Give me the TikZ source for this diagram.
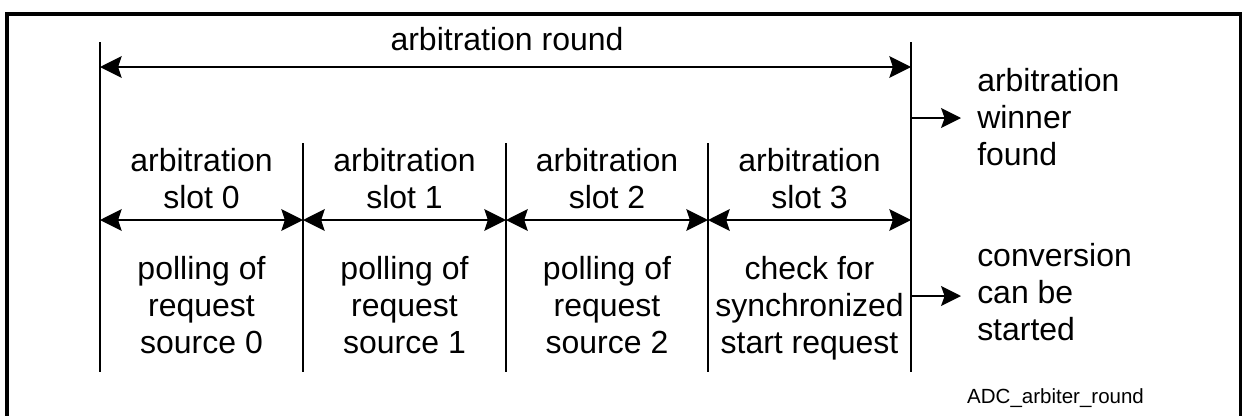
\documentclass[tikz,border=0pt]{standalone}
\usepackage{fontspec}
\setmainfont{Liberation Sans}
\usetikzlibrary{arrows.meta}

\begin{document}
\begin{tikzpicture}[
    x=0.03cm, y=-0.03cm,
    txt/.style={font=\fontsize{27.3}{31.6}\selectfont, inner sep=0pt},
    lbl/.style={txt, align=center, anchor=north},
    side/.style={txt, align=left, anchor=north west},
    span/.style={{Stealth[length=18.5pt, width=18.5pt, inset=3pt]}-{Stealth[length=18.5pt, width=18.5pt, inset=3pt]}, line width=1.7pt},
    result/.style={-{Stealth[length=17pt, width=17pt, inset=3pt]}, line width=1.7pt},
    bound/.style={line width=2.3pt},
    sep/.style={line width=1.1pt}
]
    \useasboundingbox (0,0) rectangle (1242,415);

    % Outer frame (open at the bottom)
    \draw[line width=2.6pt] (7,420) -- (7,14) -- (1241,14) -- (1241,420);

    % Slot boundaries
    \coordinate (t0) at (100,42);  \coordinate (b0) at (100,372);
    \coordinate (t1) at (303,143); \coordinate (b1) at (303,372);
    \coordinate (t2) at (506,143); \coordinate (b2) at (506,372);
    \coordinate (t3) at (708,143); \coordinate (b3) at (708,372);
    \coordinate (t4) at (911,42);  \coordinate (b4) at (911,372);
    \draw[bound] (t0) -- (b0);
    \draw[sep] (t1) -- (b1);
    \draw[sep] (t2) -- (b2);
    \draw[sep] (t3) -- (b3);
    \draw[bound] (t4) -- (b4);

    % Arbitration round
    \node[txt, anchor=base] (round) at (507,50) {arbitration round};
    \coordinate (r0) at (100,67);
    \coordinate (r4) at (911,67);
    \draw[span] (r0) -- (r4);

    % Arbitration slots
    \coordinate (s0) at (100,220);
    \coordinate (s1) at (303,220);
    \coordinate (s2) at (506,220);
    \coordinate (s3) at (708,220);
    \coordinate (s4) at (911,220);
    \draw[span] (s0) -- (s1);
    \draw[span] (s1) -- (s2);
    \draw[span] (s2) -- (s3);
    \draw[span] (s3) -- (s4);

    \node[lbl] (slot0) at (201.5,148) {arbitration\\slot 0};
    \node[lbl] (slot1) at (404.5,148) {arbitration\\slot 1};
    \node[lbl] (slot2) at (607,148) {arbitration\\slot 2};
    \node[lbl] (slot3) at (809.5,148) {arbitration\\slot 3};

    % Slot actions
    \node[lbl] (act0) at (201.5,256) {polling of\\request\\source 0};
    \node[lbl] (act1) at (404.5,256) {polling of\\request\\source 1};
    \node[lbl] (act2) at (607,256) {polling of\\request\\source 2};
    \node[lbl] (act3) at (809.5,256) {check for\\synchronized\\start request};

    % Results on the right
    \node[side] (winner) at (977,68) {arbitration\\winner\\found};
    \node[side] (conv) at (977,243) {conversion\\can be\\started};
    \coordinate (w0) at (911,118);  \coordinate (w1) at (961,118);
    \coordinate (c0) at (911,296);  \coordinate (c1) at (961,296);
    \draw[result] (w0) -- (w1);
    \draw[result] (c0) -- (c1);

    % Figure name
    \node[font=\fontsize{17.5}{20}\selectfont, inner sep=0pt, anchor=base west] (fig) at (967,403) {ADC\_arbiter\_round};
\end{tikzpicture}
\end{document}
